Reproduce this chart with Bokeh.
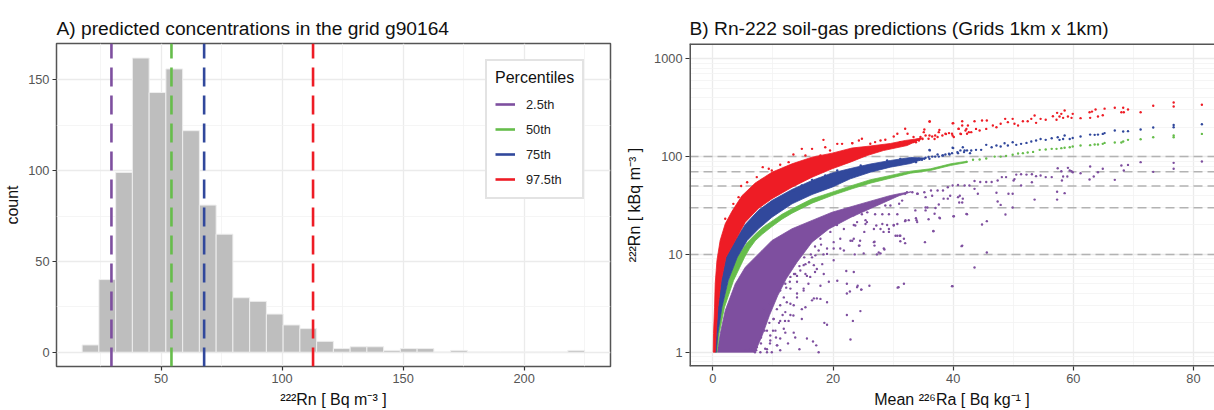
from bokeh.plotting import figure
from bokeh.layouts import row
from bokeh.models import Range1d, FixedTicker, Legend, LegendItem, Title
from bokeh.embed import file_html
from bokeh.resources import INLINE

FONT = "Liberation Sans"
PURPLE, GREEN, BLUE, RED = "#7e4f9f", "#66bd4b", "#31489c", "#ee1c25"

# ---------- Panel A ----------
bin_start = 17.4
bin_width = 6.92
bar_counts = [4, 40, 99, 162, 143, 156, 122, 81, 65, 30, 28, 21, 15, 13, 6, 2, 3, 3, 1, 2, 2, 0, 1, 0, 0, 0, 0, 0, 0, 1]
percentile_names = ["2.5th", "50th", "75th", "97.5th"]
percentile_values = [29.5, 54.3, 67.8, 112.8]
percentile_colors = [PURPLE, GREEN, BLUE, RED]

# ---------- Panel B: dense bands read as outlines (x, log10 of kBq/m3) ----------
red_x = [.05, .1, .27, .38, .67, 1.2, 2.05, 3.17, 4.83, 7.05, 9.83, 13.17, 16.5, 19.83, 23.17, 26.2, 29.55, 32.05, 35,
         32.33, 28.4, 25.67, 22.88, 19.83, 16.5, 13.17, 9.83, 7.55, 5.38, 3.72, 2.17, 1.38, .83, .55, .38]
red_l = [0, .191, .46, .702, .938, 1.142, 1.313, 1.44, 1.6, 1.73, 1.84, 1.926, 1.994, 2.035, 2.088, 2.108, 2.134, 2.165, 2.19,
         2.113, 2.062, 2.011, 1.943, 1.875, 1.789, 1.687, 1.569, 1.469, 1.329, 1.142, .971, .733, .46, .191, 0]
blue_x = [.38, .55, .83, 1.38, 2.17, 3.72, 5.38, 7.55, 9.83, 13.17, 16.5, 19.83, 22.88, 26.2, 29.55, 32.9, 35.5,
          32.9, 29.55, 26.2, 22.88, 19.83, 16.5, 13.17, 9.83, 7.6, 5.7, 4.05, 2.55, 1.5, .83, .55]
blue_l = [0, .191, .46, .733, .971, 1.142, 1.305, 1.449, 1.551, 1.664, 1.756, 1.832, 1.878, 1.924, 1.96, 1.991, 1.985,
          1.929, 1.892, 1.84, 1.773, 1.687, 1.612, 1.517, 1.38, 1.262, 1.142, .971, .733, .46, .191, 0]
green_x = [.5, .83, 1.5, 2.6, 4.0, 5.7, 7.05, 8.4, 9.83, 11.5, 13.17, 16.5, 19.83, 23.17, 26.2, 29.55, 32.9, 36.2, 39.55, 42.33,
           42.33, 39.55, 36.2, 32.9, 29.55, 26.2, 23.17, 19.83, 16.5, 13.17, 11.5, 9.83, 8.2, 7.05, 6.1, 5.27, 3.43, 1.93, 1.05, .67]
green_l = [0, .191, .46, .733, .971, 1.12, 1.205, 1.28, 1.34, 1.41, 1.466, 1.568, 1.636, 1.705, 1.763, 1.807, 1.851, 1.875, 1.926, 1.953,
           1.94, 1.909, 1.858, 1.83, 1.779, 1.728, 1.671, 1.602, 1.524, 1.421, 1.36, 1.285, 1.205, 1.14, 1.06, .971, .733, .46, .191, 0]
purple_x = [.72, 1.22, 2.05, 3.72, 5.38, 8.17, 9.83, 13.17, 16.5, 19.83, 23.7, 26.2, 29.55, 31.2, 33,
            31, 27, 23, 19.3, 16.5, 14, 12.2, 10.8, 9.4, 8.2, 7]
purple_l = [0, .191, .426, .699, .869, 1.04, 1.142, 1.262, 1.347, 1.431, 1.5, 1.544, 1.602, 1.623, 1.64,
            1.6, 1.49, 1.38, 1.26, 1.125, .92, .75, .58, .375, .17, 0]

# ---------- Panel B: separately readable points ----------
purple_pts = [(17.6,0),(16.66,.11),(17.2,.07),(14.4,.03),(12.5,.09),(22.9,.13),(23.3,.32),(22.3,.38),(24.55,.42),(19,.28),(18.55,.3),(19,.51),(16.8,.55),(17.3,.55),(15.4,.46),(12.9,.38),(14.8,.34),(13.45,.2),(11.8,.24),(15.65,.14),(10.65,.07),(9,.03),(7.3,.05),(6.2,.03),(11.2,.14),(9.55,.17),(8.45,.31),(10.1,.34),(10.65,.44),(12.3,.51),(13.45,.48),(14,.6),(15.1,.65),(16.2,.77),(17.9,.68),(19.3,.72),(20.7,.73),(22.2,.83),(23.45,.82),(22.3,.7),(22.8,.62),(22.3,.6),(24.1,.68),(24.7,.64),(26.05,.68),(30.75,.66),(31.8,.7),(27.3,1),(25.1,1.01),(23.6,1),(24.3,1.09),(28.45,1.06),(27.9,1.01),(30.7,1.19),(32.05,1.35),(33.9,1.35),(30.1,1.3),(31.8,1.16),(31.2,1.19),(26.8,1.125),(23.45,1.16),(22.9,1.14),(20.1,.94),(18.45,.8),(17.3,.85),(15.65,.78),(14,.78),(15.1,.89),(17.05,.99),(20.1,1.125),(21.2,1.06),(19,1.06),(21.8,1.26),(23.45,1.3),(25.65,1.33),(27.9,1.26),(29,1.3),(17.9,1.16),(19.55,1.23),(20.65,1.3),(21.2,1.16),
    (8,.15),(8.6,.22),(9.4,.3),(10,.22),(10.5,.15),(11,.3),(11.6,.38),(12,.32),(8.5,.45),(9.5,.5),(10.2,.55),(10.8,.62),(11.5,.7),(12.2,.66),(12.8,.72),(13.5,.8),(14.4,.88),(13.2,.88),(12,.82),(15.2,.97),(16.3,1),(16,.92),(17,1.08),(18,1.1),(14.5,1),(13.5,.94),(7.2,.02),(8,.09),(5.5,.02),(9.5,.09),(11.2,.02),
    (11.2,.63),(12.05,.7),(12.9,.77),(13.7,.8),(14.55,.835),(15.4,.9),(16.5,.97),(17.6,1.04),(18.2,.9),(19,1.005),(17,.82),(15.9,.7),(15.1,.63),(14,.56),(12.9,.495),(12.05,.41),(11.2,.32),(10.4,.22),(9.55,.12),(8.7,.035),(12.6,.32),(13.4,.375),(14.8,.44),(16.5,.53),(17.9,.545),(12.05,.2),(13.7,.15),(10.7,.07),(9.8,0),(9,0),(7.9,0),(7,0),(9,.22),(10.1,.34),(11.2,.48),(11.8,.56),(12.9,.65),(14,.72),(15.4,.8),(16.8,.89),(18.4,1),(20.1,1.06),(21.8,1.04),
    (24,.665),(24.7,.64),(30.9,.665),(39.8,.675),(27.6,1.02),(28.55,1.05),(26.9,1.09),(24.4,1.09),(26.9,1.13),(23.2,1.14),(24.5,1.14),(30.4,1.19),(31.1,1.19),(31.2,1.135),(32,1.115),(35.3,1.125),(41.5,1.09),(36.7,1.24),(29.3,1.23),(29.3,1.26),(28.4,1.23),(26.8,1.26),(25.2,1.23),(23.7,1.295),(25.4,1.31),(27.2,1.295),(28.2,1.31),(30.1,1.295),(30.7,1.31),(32,1.34),(32.6,1.35),(34,1.33),(33.8,1.37),(35.9,1.36),(37.8,1.37),(40.1,1.39),(36.9,1.415),(33.7,1.45),(35.4,1.45),(37.6,1.51),(37.05,1.475),(35.4,1.48),(35.7,1.48),(38.4,1.57),(39.5,1.6),(41,1.53),(41.5,1.53),(41.1,1.6),(42.3,1.41),(36.5,1.6),(35.4,1.585),(34,1.62),(33.2,1.636),(32,1.62),(32.3,1.636),(31.5,1.55),(31,1.517),(29.55,1.5),(28.7,1.5),(27.6,1.55),(26.2,1.5),(27,1.41),(28.2,1.41),(29.3,1.41),(30.7,1.41),(25.7,1.43),(24.8,1.41),(23.4,1.4),(25.4,1.35),(24,1.33),
    (81.4,1.95),(76.7,1.936),(76.7,1.875),(73.3,1.844),(71.2,1.943),(69.1,1.915),(68.4,1.857),(68,1.909),(66.9,1.762),(64.9,1.875),(64.1,1.84),(62.8,1.898),(62.7,1.765),(63.4,1.796),(61.2,1.83),(59.9,1.84),(59.1,1.885),(59.4,1.858),(59.7,1.85),(59,1.796),(58.3,1.796),(58,1.85),(57.4,1.88),(58.1,1.755),(56.4,1.79),(55.4,1.79),(54.55,1.806),(53.8,1.8),(53.1,1.82),(52.2,1.816),(51.3,1.82),(50.5,1.816),(50.05,1.755),(50.2,1.77),(48.8,1.79),(48.1,1.79),(47.4,1.755),(46.4,1.74),(45.5,1.74),(44.5,1.74),(43.55,1.75),(42.7,1.704),(41.9,1.704),(40.8,1.71),(39.9,1.704),(39.1,1.687),(38.3,1.653),(37.4,1.653),(36.3,1.653),(35.2,1.636),(34.1,1.62),(53.1,1.738),(51.3,1.704),(49.9,1.62),(49.2,1.62),(47.2,1.63),(44.1,1.62),(43.55,1.67),(40.8,1.585),(41.6,1.57),(39.1,1.57),(57.3,1.56),(58.55,1.626),(57.3,1.64),(53.55,1.56),(49.9,1.48),(47.9,1.506),(47.4,1.54),(48.7,1.408),(45.6,1.34),(44.8,1.305),(42.2,1.414),(36.7,1.237),(41.4,1.084),(45.6,1.02),(43.55,.866),(39.9,.675),(40.05,1.39),(37.7,1.374)]
red_pts = [(81.4,2.53),(76.7,2.553),(76.7,2.512),(73.3,2.519),(71.2,2.454),(69.1,2.481),(68.3,2.5),(68.4,2.454),(68,2.454),(66.9,2.5),(65.2,2.49),(64.9,2.423),(64.1,2.41),(63.7,2.481),(63.1,2.46),(62.7,2.454),(62.8,2.396),(61.2,2.393),(59.9,2.437),(59.7,2.396),(59.1,2.41),(58.55,2.471),(58.3,2.396),(57.7,2.41),(57.3,2.447),(58,2.437),(56.6,2.413),(57.2,2.376),(55.4,2.376),(54.55,2.386),(53.55,2.42),(53.8,2.345),(53,2.386),(52.4,2.362),(51.6,2.362),(50.8,2.318),(49.9,2.386),(50.2,2.335),(48.65,2.386),(49.1,2.352),(47.9,2.335),(47.2,2.3),(46.6,2.318),(45.6,2.369),(44.8,2.369),(45.5,2.283),(44.4,2.266),(43.55,2.362),(43.8,2.283),(43,2.25),(42.45,2.318),(42.2,2.283),(41.5,2.362),(40.9,2.283),(41.3,2.23),(39.9,2.34),(39.9,2.215),(38.8,2.23),(37.7,2.273),(36.05,2.358),(36.9,2.18),(35.2,2.277),(36.05,2.215),(34.4,2.18),(34.9,2.18),(33.8,2.147),
    (36.1,2.359),(32,2.284),(30.7,2.233),(30.1,2.206),(32.4,2.233),(28.7,2.172),(27.9,2.165),(24.8,2.182),(24.3,2.165),(23.2,2.138),(26.2,2.131),(27,2.148),(31.2,2.148),(33.4,2.2),(34.3,2.165),(35.1,2.25),
    (18.4,2.171),(16.5,2.079),(14.8,2.079),(13.4,2.021),(11.2,1.916),(8.3,1.892),(5.7,1.738),(4.7,1.7),(2.05,1.364),(20.7,2.13),(21.5,2.13),(18.7,2.096),(19.5,2.062),(15.4,2.011),(17.9,2.011),(12.6,1.943),(9.8,1.858),(9.3,1.875),(7.3,1.79),(4.27,1.585),(3.4,1.517),(23.2,2.137),
    (33.4,2.148),(34,2.172),(34.55,2.2),(35.4,2.216),(35.9,2.182),(36.5,2.206),(37,2.216),(37.6,2.25),(37.4,2.2),(38.2,2.216),(38.7,2.233),(39.3,2.24),(39.8,2.233),(40,2.342),(40.9,2.284),(41.5,2.318),(42.05,2.267),(42.6,2.25),(42.3,2.233),(41.2,2.233),(40.1,2.2)]
blue_pts = [(81.4,2.331),(76.7,2.324),(76.7,2.3),(73.3,2.297),(71.2,2.277),(69.1,2.26),(68.3,2.256),(66.9,2.267),(65.2,2.24),(64.9,2.232),(64.1,2.225),(63.55,2.222),(62.8,2.225),(61.2,2.205),(59.9,2.19),(59.4,2.18),(58.55,2.215),(58.3,2.18),(57.4,2.198),(57.7,2.171),(56.4,2.188),(55.4,2.171),(54.55,2.18),(53.8,2.164),(53,2.154),(52.2,2.14),(51.3,2.13),(50.5,2.12),(49.9,2.147),(49.1,2.113),(48.55,2.137),(47.9,2.103),(47.2,2.113),(46.4,2.096),(45.5,2.12),(44.65,2.069),(43.8,2.069),(43,2.062),(41.6,2.096),(41.9,2.062),(40.8,2.035),(39.9,2.09),(39.4,2.021),(38.3,2.011),(37.4,2.021),(36.05,2.069),(36.05,1.977),(35.2,1.977),(34.4,1.967),(33.8,1.943),
    (20.7,1.858),(18.7,1.807),(16.5,1.762),(14.8,1.705),(13.4,1.653),(22.6,1.824),(17.6,1.772),(9.8,1.517),(8.7,1.483),(12,1.602),(36.1,2.063),(24.6,1.909),(23.7,1.851),(26.5,1.909),(29,1.96),(31.2,1.977),
    (33.7,1.96),(34.3,1.978),(34.8,1.967),(35.4,1.988),(35.9,1.995),(36.5,2),(37,2),(37.6,2),(38.2,2.012),(38.7,2.022),(39.3,2.029),(39.8,2.035),(40,2.087),(40.7,2.046),(41.2,2.063),(41.8,2.046),(42.3,2.063),(42.8,2.035)]
green_pts = [(81.4,2.232),(76.7,2.215),(76.7,2.198),(73.3,2.198),(71.2,2.178),(69.1,2.171),(68.3,2.154),(68,2.144),(66.9,2.144),(65.2,2.14),(64.9,2.13),(64.1,2.123),(63.55,2.123),(62.8,2.117),(61.2,2.113),(59.9,2.103),(59.4,2.096),(58.55,2.09),(58,2.086),(57.2,2.079),(56.4,2.079),(55.4,2.072),(54.4,2.069),(53.3,2.048),(52.4,2.042),(51.6,2.035),(50.8,2.031),(49.9,2.018),(48.8,2.007),(47.9,2),(46.9,2),(45.5,1.98),(44.4,1.97),(43.3,1.967),(42.2,1.946)]
threshold_lines = [10, 30, 50, 70, 100]


def style(p, title):
    t = Title(text=title, align="left", text_font=FONT, text_font_size="19.2px",
              text_font_style="normal", text_color="#111111", standoff=9, offset=0)
    p.add_layout(t, "above")
    p.outline_line_color = "#555555"
    p.outline_line_width = 1.5
    p.background_fill_color = "white"
    p.border_fill_color = "white"
    for ax in (p.xaxis[0], p.yaxis[0]):
        ax.axis_line_color = None
        ax.major_tick_line_color = "#333333"
        ax.major_tick_line_width = 1.2
        ax.major_tick_in = 0
        ax.major_tick_out = 4
        ax.minor_tick_line_color = None
        ax.major_label_text_font = FONT
        ax.major_label_text_font_size = "12.8px"
        ax.major_label_text_color = "#555555"
        ax.major_label_standoff = 3
        ax.axis_label_text_font = FONT
        ax.axis_label_text_font_size = "16px"
        ax.axis_label_text_font_style = "normal"
        ax.axis_label_text_color = "#111111"
    p.xaxis[0].axis_label_standoff = 5
    for g in (p.xgrid[0], p.ygrid[0]):
        g.grid_line_color = "#ebebeb"
        g.grid_line_width = 1.3
        g.minor_grid_line_color = "#f2f2f2"
        g.minor_grid_line_width = 0.8


# ---------- figure A ----------
a_bottom, a_top = -7.87, 170
pa = figure(width=620, height=410, output_backend="svg", toolbar_location=None,
            x_range=Range1d(6.8, 235.7), y_range=Range1d(a_bottom, a_top),
            min_border_left=56, min_border_right=10, min_border_top=43, min_border_bottom=44,
            x_axis_label="²²²Rn [ Bq m⁻³ ]", y_axis_label="count")
style(pa, "A) predicted concentrations in the grid g90164")
pa.xaxis[0].ticker = FixedTicker(ticks=[50, 100, 150, 200], minor_ticks=[25, 75, 125, 175, 225])
pa.yaxis[0].ticker = FixedTicker(ticks=[0, 50, 100, 150], minor_ticks=[25, 75, 125])
pa.yaxis[0].axis_label_standoff = 4

lefts = [bin_start + bin_width * i for i in range(len(bar_counts))]
rights = [l + bin_width for l in lefts]
pa.quad(left=lefts, right=rights, bottom=0, top=bar_counts, fill_color="#bebebe", line_color="#eeeeee", line_width=1)

items = []
for name, v, c in zip(percentile_names, percentile_values, percentile_colors):
    pa.line([v, v], [a_bottom, a_top], line_color=c, line_width=2.6, line_dash="19 9")
    key = pa.line([v, v], [a_bottom, a_bottom], line_color=c, line_width=2.6)
    items.append(LegendItem(label=name, renderers=[key]))

leg = Legend(items=items, title="Percentiles", location=(429, 167), orientation="vertical",
             title_text_font=FONT, title_text_font_size="16px", title_text_font_style="normal", title_text_color="#111111",
             label_text_font=FONT, label_text_font_size="12.8px", label_text_color="#222222",
             glyph_width=20, glyph_height=20, label_height=20, spacing=5, padding=8, margin=0,
             label_standoff=11, title_standoff=7,
             border_line_color="#c8c8c8", border_line_width=2, background_fill_color="white", background_fill_alpha=1)
pa.add_layout(leg, "center")

# ---------- figure B ----------
minor_y = [.8, .9] + [m * d for d in (1, 10, 100) for m in range(2, 10)]
pb = figure(width=594, height=410, output_backend="svg", toolbar_location=None, y_axis_type="log",
            x_range=Range1d(-3.9, 83.5), y_range=Range1d(0.714, 1433),
            min_border_left=69, min_border_right=0, min_border_top=43, min_border_bottom=44,
            x_axis_label="Mean ²²⁶Ra [ Bq kg⁻¹ ]", y_axis_label="²²²Rn [ kBq m⁻³ ]")
style(pb, "B) Rn-222 soil-gas predictions (Grids 1km x 1km)")
pb.outline_line_color = None
pb.xaxis[0].ticker = FixedTicker(ticks=[0, 20, 40, 60, 80], minor_ticks=[10, 30, 50, 70])
pb.yaxis[0].ticker = FixedTicker(ticks=[1, 10, 100, 1000], minor_ticks=minor_y)
pb.yaxis[0].major_label_overrides = {1: "1", 10: "10", 100: "100", 1000: "1000"}
pb.yaxis[0].axis_label_standoff = 8

for v in threshold_lines:
    pb.line([-3.9, 83.5], [v, v], line_color="#b3b3b3", line_width=1.5, line_dash="9 5")


def from_log(values):
    return [10 ** v for v in values]


for bx, bl, pts, c in ((purple_x, purple_l, purple_pts, PURPLE), (green_x, green_l, green_pts, GREEN),
                       (blue_x, blue_l, blue_pts, BLUE), (red_x, red_l, red_pts, RED)):
    pb.patch(bx, from_log(bl), fill_color=c, line_color=c, line_width=0.8)
    pb.scatter([q[0] for q in pts], from_log([q[1] for q in pts]), size=2.4, fill_color=c, line_color=None)

# frame edges (no right edge: the panel is cut by the page edge)
pb.line([-3.9, -3.9], [0.714, 1433], line_color="#555555", line_width=3)
pb.line([-3.9, 83.5], [1433, 1433], line_color="#555555", line_width=3)
pb.line([-3.9, 83.5], [0.714, 0.714], line_color="#555555", line_width=3)

page = row(pa, pb, spacing=0)
open("out.html", "w").write(file_html(page, INLINE))
